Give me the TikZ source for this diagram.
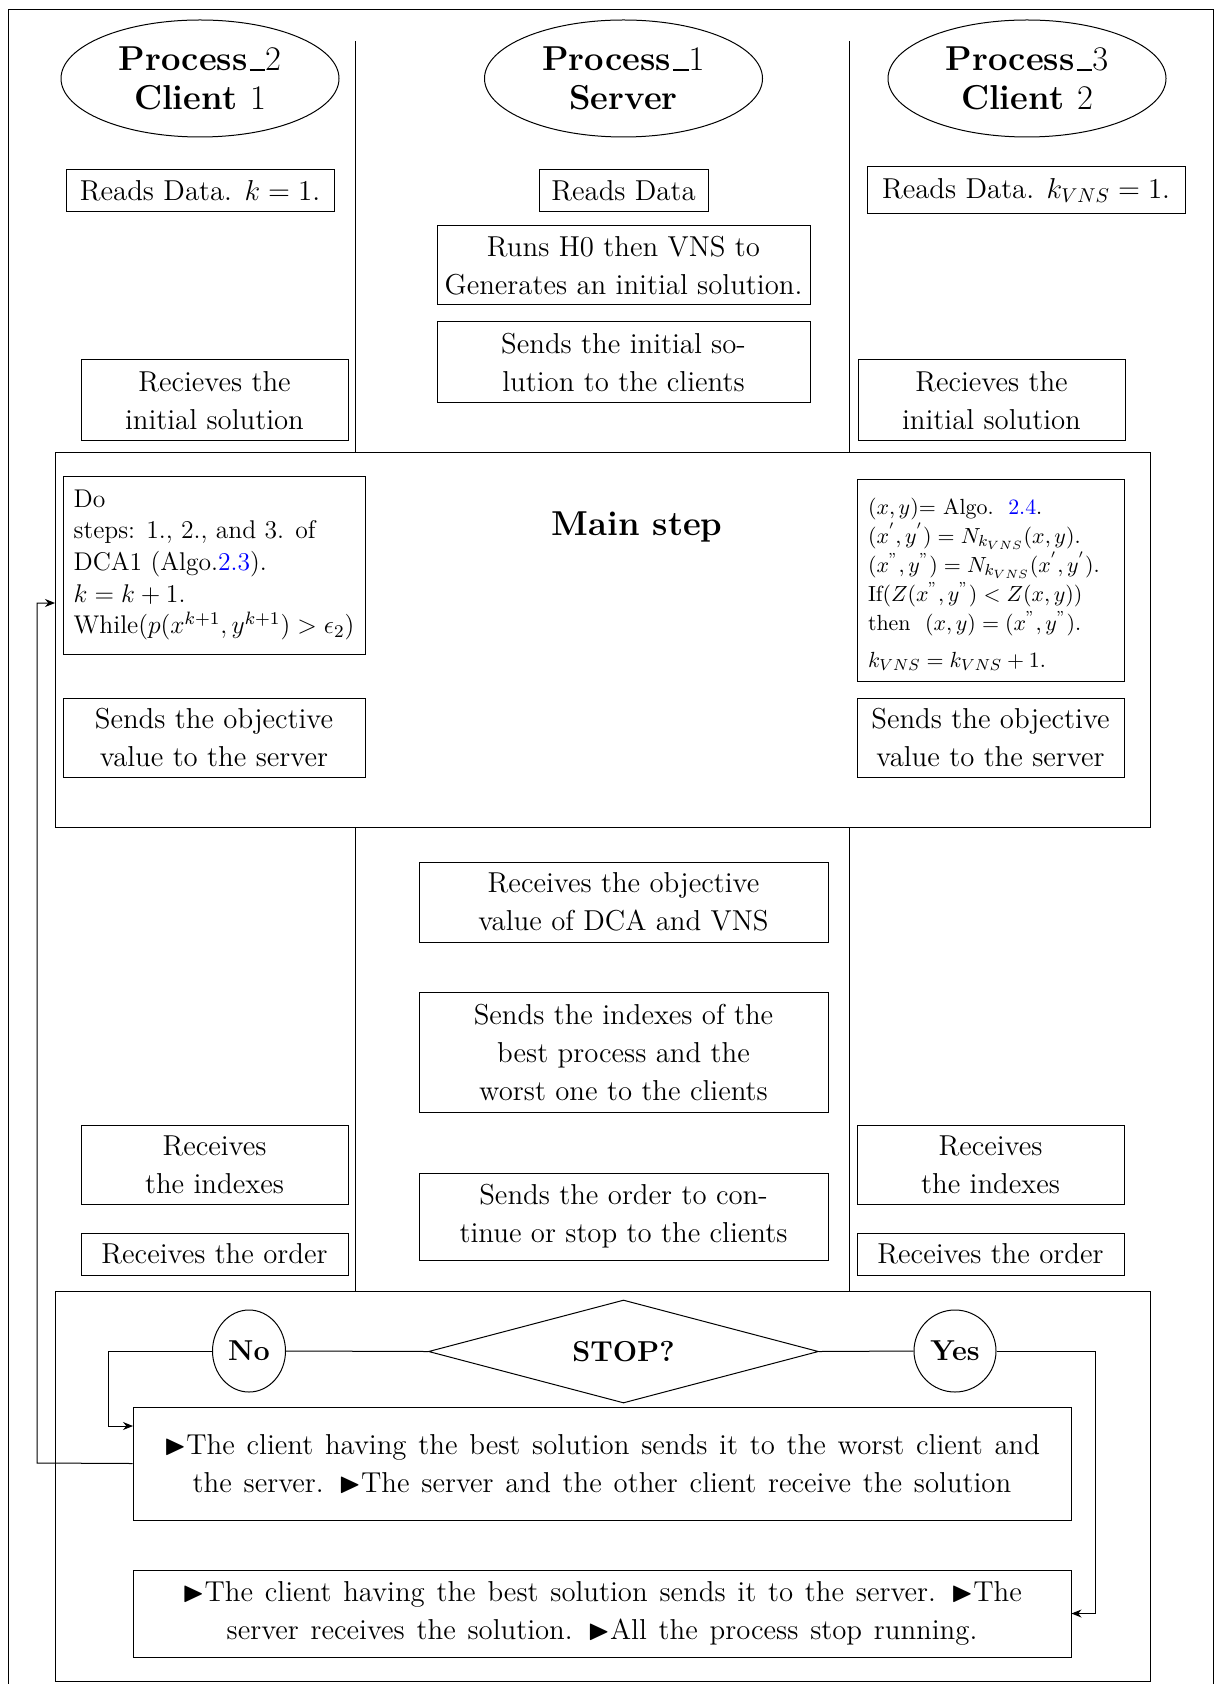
\RequirePackage{fix-cm}
\documentclass[tikz,border=0pt]{standalone}
\usepackage{amssymb}
\usetikzlibrary{shapes.geometric,arrows.meta}
\newcommand{\usc}{\leavevmode\kern.06em\vbox{\hrule width .45em height .9pt}}
\newcommand{\widespacing}{\spaceskip=5.9pt plus 1pt minus .5pt\relax}
\tikzset{
  box/.style={draw, align=center, inner sep=2pt, font=\fontsize{14.4}{19}\selectfont},
  widebox/.style={box, font=\fontsize{14.4}{19}\selectfont\widespacing},
  ttl/.style={draw, ellipse, align=center, inner sep=0pt, minimum width=139pt, minimum height=58.5pt, font=\fontsize{17.28}{19.5}\selectfont\bfseries},
  frame/.style={draw, inner sep=0pt},
  answer/.style={draw, ellipse, inner sep=1pt, font=\fontsize{14.4}{17}\selectfont\bfseries},
  arr/.style={-{Stealth[length=5pt,width=4pt]}},
}
\begin{document}
\begin{tikzpicture}[x=0.5pt,y=-0.5pt,line width=0.5pt]
\useasboundingbox (0,0) rectangle (1216,1684);
% outer frame
\draw (8,1684) -- (8,10) -- (1213,10) -- (1213,1684);
% lane separators
\draw (355.5,41) -- (355.5,452);
\draw (355.5,827) -- (355.5,1291);
\draw (849,41) -- (849,452);
\draw (849,827) -- (849,1291);

% titles
\node[ttl] (p2) at (200,78.5) {Process\usc$2$\\Client $1$};
\node[ttl] (p1) at (623.5,78.5) {Process\usc$1$\\Server};
\node[ttl] (p3) at (1027,78.5) {Process\usc$3$\\Client $2$};

% first row
\node[box, minimum width=134pt, minimum height=21pt] (rd1) at (200,191) {Reads Data. $k=1.$};
\node[box, minimum width=84.5pt, minimum height=21pt] (rd0) at (623.5,191) {Reads Data};
\node[box, minimum width=159pt, minimum height=23.5pt] (rd3) at (1026,190.5) {Reads Data. $k_{VNS}=1.$};

\node[box, minimum width=186.5pt, minimum height=39.5pt] (runs) at (623.5,265.5) {Runs H0 then VNS to\\Generates an initial solution.};
\node[box, minimum width=186.5pt, minimum height=40.5pt] (sendinit) at (623.5,362.5) {Sends the initial so-\\lution to the clients};
\node[box, minimum width=133.5pt, minimum height=40.5pt] (rec1) at (214.5,400.5) {Recieves the\\initial solution};
\node[box, minimum width=133.5pt, minimum height=40.5pt] (rec3) at (991.5,400.5) {Recieves the\\initial solution};

% main step frame
\node[frame, minimum width=547.5pt, minimum height=187.5pt] (mainframe) at (602.5,639.5) {};
\node[font=\fontsize{17.28}{20}\selectfont\bfseries] (mainlbl) at (637,527) {Main step};

\node[draw, align=left, inner xsep=2pt, inner ysep=2pt, minimum width=151pt, minimum height=89pt, font=\fontsize{12.8}{15.8}\selectfont] (dobox) at (214,565)
 {Do\\
  steps: 1., 2., and 3. of\\
  DCA1 (Algo.\textcolor{blue}{2.3}).\\
  $k=k+1$.\\
  While$(p(x^{k+1},y^{k+1}) > \epsilon_2)$};

\node[draw, align=left, inner xsep=5.5pt, inner ysep=2pt, text width=122.5pt, minimum width=133.5pt, minimum height=101pt, font=\fontsize{10.95}{14.5}\selectfont] (vnsbox) at (990.5,580)
 {\rule{0pt}{12.5pt}$(x,y)$= Algo.~~\textcolor{blue}{2.4}.\\
  $(x^{'},y^{'}) = N_{k_{VNS}}(x,y)$.\\
  $(x^{"},y^{"}) = N_{k_{VNS}}(x^{'},y^{'})$.\\
  If$(Z(x^{"},y^{"}) < Z(x,y))$\\
  then~ $(x,y) = (x^{"},y^{"})$.\\[4pt]
  $k_{VNS} = k_{VNS} + 1$.};

\node[box, minimum width=151pt, minimum height=39.5pt] (obj1) at (214,737.5) {Sends the objective\\value to the server};
\node[box, minimum width=133.5pt, minimum height=39.5pt] (obj3) at (990.5,737.5) {Sends the objective\\value to the server};

% server lane, lower part
\node[box, minimum width=204.5pt, minimum height=40pt] (recobj) at (623.5,902) {Receives the objective\\value of DCA and VNS};
\node[box, minimum width=204.5pt, minimum height=60pt] (sendidx) at (623.5,1052) {Sends the indexes of the\\best process and the\\worst one to the clients};
\node[box, minimum width=204.5pt, minimum height=43.5pt] (sendord) at (623.5,1216.5) {Sends the order to con-\\tinue or stop to the clients};

\node[box, minimum width=133.5pt, minimum height=39.5pt] (ridx1) at (214.5,1164.5) {Receives\\the indexes};
\node[box, minimum width=133.5pt, minimum height=39.5pt] (ridx3) at (990.5,1164.5) {Receives\\the indexes};
\node[box, minimum width=133.5pt, minimum height=21pt] (rord1) at (214.5,1254) {Receives the order};
\node[box, minimum width=133.5pt, minimum height=21pt] (rord3) at (990.5,1254) {Receives the order};

% decision frame
\node[frame, minimum width=547.5pt, minimum height=195pt] (decframe) at (602.5,1486) {};
\node[draw, diamond, aspect=3.8, inner sep=0pt, minimum width=195pt, minimum height=51.5pt, font=\fontsize{14.4}{17}\selectfont\bfseries] (stop) at (623.5,1351.5) {STOP?};
\node[answer, minimum width=36.5pt, minimum height=41pt] (no) at (249,1351) {No};
\node[answer, minimum width=41pt, minimum height=41pt] (yes) at (955,1351) {Yes};

\node[widebox, minimum width=469pt, minimum height=56.5pt] (box1) at (602,1463.5)
 {$\blacktriangleright$The client having the best solution sends it to the worst client and\\the server. $\blacktriangleright$The server and the other client receive the solution};
\node[widebox, minimum width=469pt, minimum height=43.5pt] (box2) at (602,1613.5)
 {$\blacktriangleright$The client having the best solution sends it to the server. $\blacktriangleright$The\\server receives the solution. $\blacktriangleright$All the process stop running.};

% connectors
\coordinate (noL) at (108.5,1351);
\coordinate (box1in) at (133,1426);
\coordinate (yesR) at (1095,1351);
\coordinate (loopL) at (37,1463);
\coordinate (loopin) at (55,603);

\draw (stop.west) -- (no.east);
\draw[arr] (no.west) -- (noL) |- (box1in);
\draw (stop.east) -- (yes.west);
\draw[arr] (yes.east) -- (yesR) |- (box2.east);
\draw[arr] (box1.west) -- (loopL) |- (loopin);
\end{tikzpicture}
\end{document}
